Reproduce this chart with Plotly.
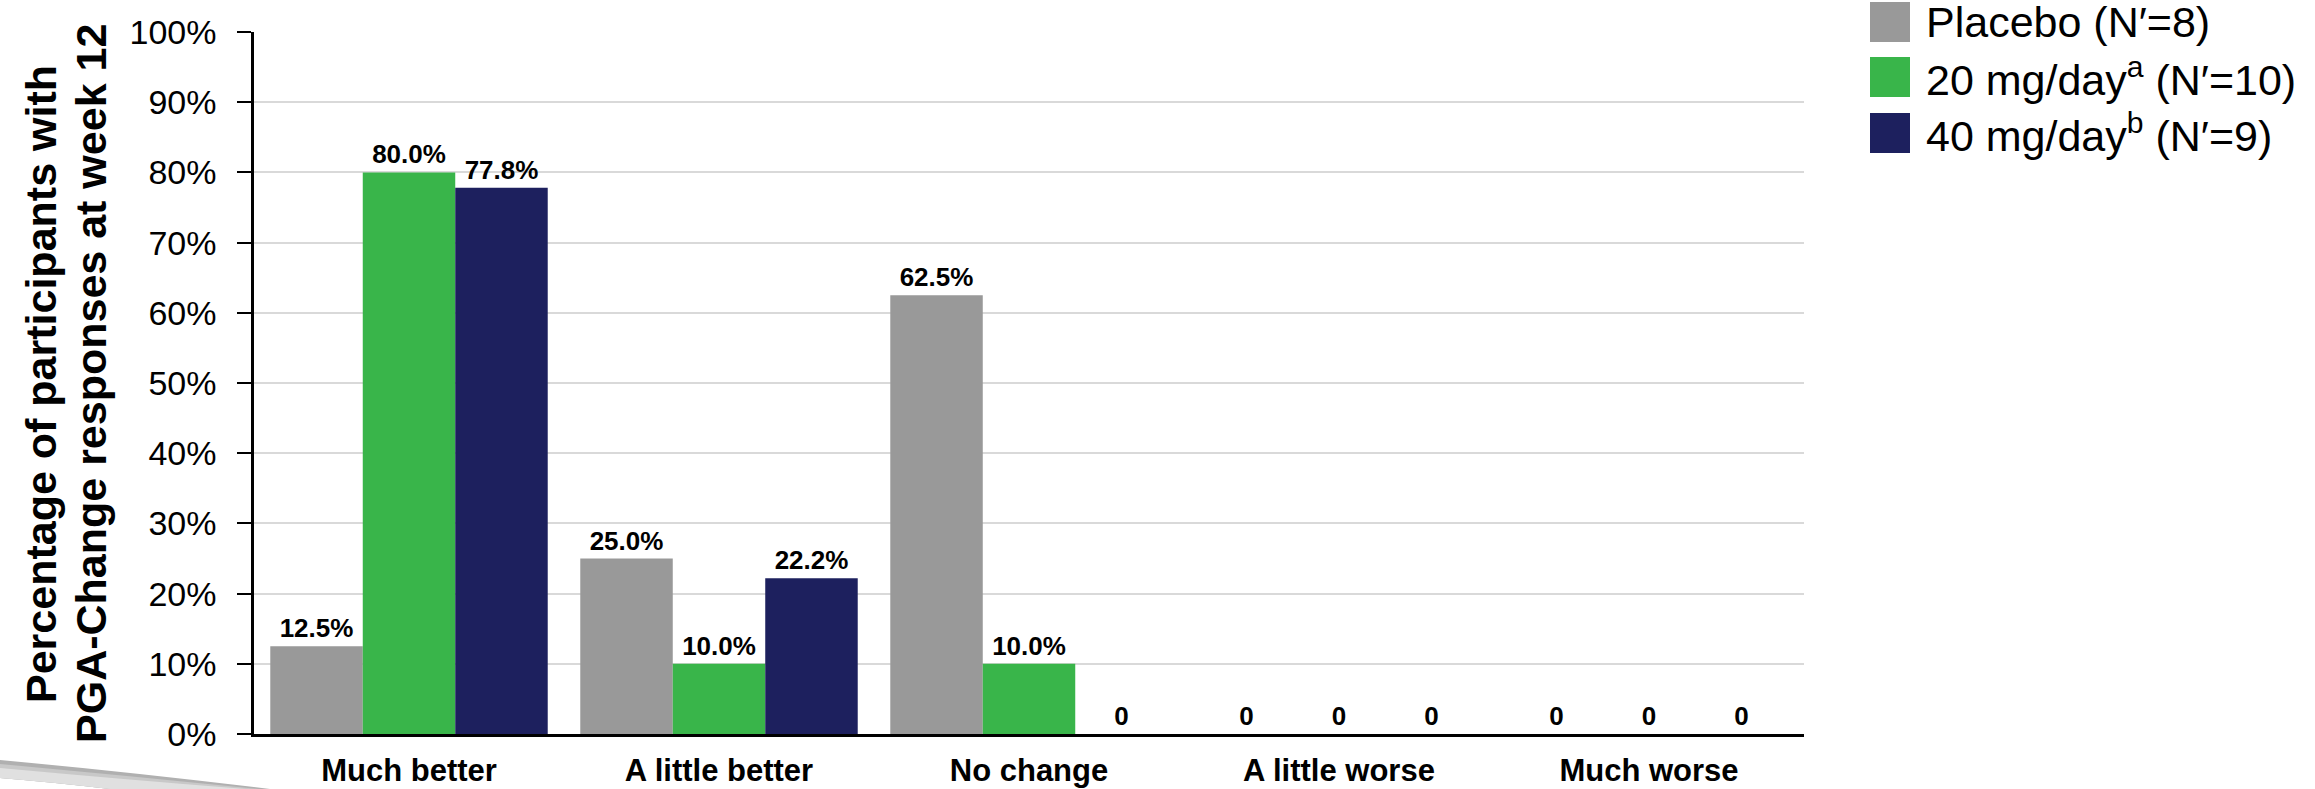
import plotly.graph_objects as go

# Response categories and the share of participants per arm (%)
categories = ["Much better", "A little better", "No change", "A little worse", "Much worse"]
placebo = [12.5, 25.0, 62.5, 0, 0]
dose_20 = [80.0, 10.0, 10.0, 0, 0]
dose_40 = [77.8, 22.2, 0, 0, 0]

series_names = [
    "Placebo (N\u2032=8)",
    "20 mg/day<sup>a</sup> (N\u2032=10)",
    "40 mg/day<sup>b</sup> (N\u2032=9)",
]
series_values = [placebo, dose_20, dose_40]
series_colors = ["#999999", "#39b54a", "#1d205e"]

y_ticks = list(range(0, 101, 10))
y_tick_labels = [f"{v}%" for v in y_ticks]

title_lines = ["Percentage of participants with", "PGA-Change responses at week 12"]

W, H = 2315, 789
L, R, T, B = 254, 511, 32, 55
PW, PH = W - L - R, H - T - B

FONT = "Liberation Sans, Arial, sans-serif"


def px(x):
    return (x - L) / PW


def py(y):
    return (H - B - y) / PH


def fmt(v):
    return "0" if v == 0 else f"{v:.1f}%"


fig = go.Figure()
for name, vals, col in zip(series_names, series_values, series_colors):
    fig.add_trace(go.Bar(
        x=categories, y=vals, name=name,
        marker=dict(color=col, line=dict(width=0)),
        text=[fmt(v) for v in vals],
        textposition="outside",
        textfont=dict(family=FONT, size=26, color="black", weight="bold"),
        cliponaxis=False,
        showlegend=False,
    ))

fig.update_layout(
    width=W, height=H,
    margin=dict(l=L, r=R, t=T, b=B, autoexpand=False),
    paper_bgcolor="white", plot_bgcolor="white",
    barmode="group", bargap=0.105, bargroupgap=0,
    font=dict(family=FONT, color="black"),
    xaxis=dict(
        automargin=False,
        showline=True, linecolor="black", linewidth=3,
        ticks="", showgrid=False,
        tickfont=dict(family=FONT, size=31, weight="bold", color="black"),
        ticklabelstandoff=7,
    ),
    yaxis=dict(
        automargin=False,
        range=[0, 100], tickmode="array", tickvals=y_ticks, ticktext=y_tick_labels,
        showline=True, linecolor="black", linewidth=2.5,
        ticks="outside", ticklen=14, tickwidth=2, tickcolor="black",
        showgrid=True, gridcolor="#d9d9d9", gridwidth=1.5,
        zeroline=False,
        tickfont=dict(family=FONT, size=34, color="black"),
        ticklabelstandoff=14,
    ),
)

# Rotated axis title, one annotation per line for tight leading
for line, xc in zip(title_lines, [41, 91]):
    fig.add_annotation(
        xref="paper", yref="paper", x=px(xc), y=py(384),
        text=line, textangle=-90, showarrow=False,
        xanchor="center", yanchor="middle",
        font=dict(family=FONT, size=43, weight="bold", color="black"),
    )

# Legend drawn as swatches and labels at the top right
row_centers = [22, 77, 133]
for name, col, yc in zip(series_names, series_colors, row_centers):
    fig.add_shape(
        type="rect", xref="paper", yref="paper",
        x0=px(1870), x1=px(1910), y0=py(yc + 20), y1=py(yc - 20),
        fillcolor=col, line=dict(width=0),
    )
    fig.add_annotation(
        xref="paper", yref="paper", x=px(1924), y=py(yc),
        text=name, showarrow=False, xanchor="left", yanchor="middle",
        font=dict(family=FONT, size=43, color="black"),
    )

# Grey decorative swoosh in the bottom-left corner, fading to the right
swoosh_layers = [("#b0b0b0", 0), ("#c8c8c8", 4), ("#e0e0e0", 8)]
for col, d in swoosh_layers:
    fig.add_shape(
        type="path", xref="paper", yref="paper",
        path=(f"M {px(0)},{py(760 + d)} Q {px(130)},{py(772 + d)} {px(270 - 3 * d)},{py(789)} "
              f"L {px(110)},{py(789)} Q {px(50)},{py(782)} {px(0)},{py(778)} Z"),
        fillcolor=col, line=dict(width=0), layer="below",
    )

fig.write_html("out.html")
